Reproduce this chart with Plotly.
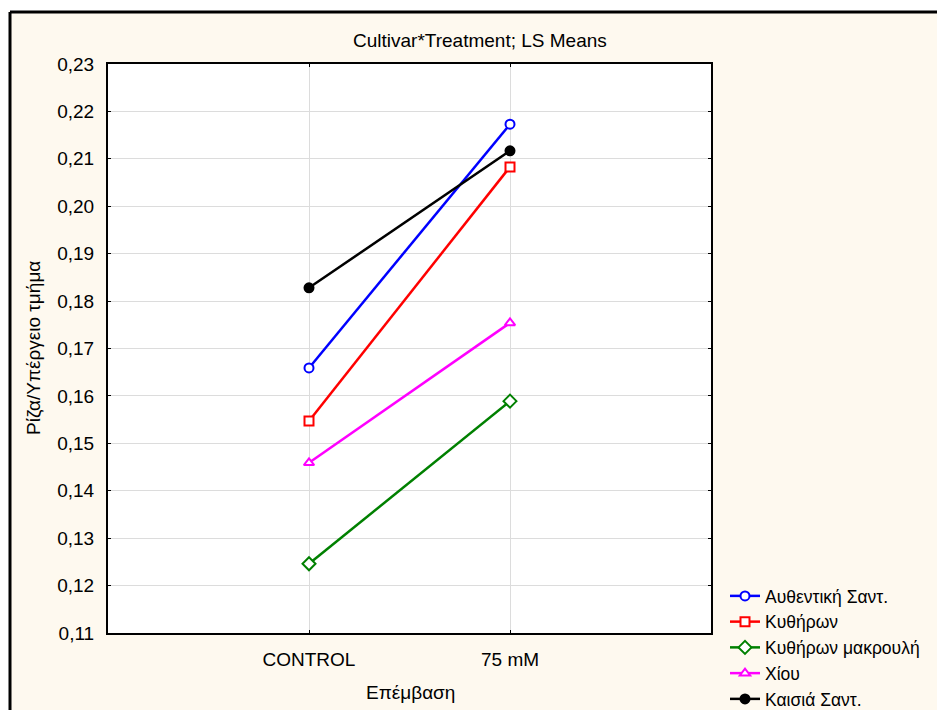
import plotly.graph_objects as go

treatments = ["CONTROL", "75 mM"]
series_names = ["Αυθεντική Σαντ.", "Κυθήρων", "Κυθήρων μακρουλή", "Χίου", "Καισιά Σαντ."]
authentiki = [0.1659, 0.2173]
kythiron = [0.1547, 0.2083]
kythiron_makr = [0.1246, 0.1589]
chiou = [0.1459, 0.1754]
kaisia = [0.1828, 0.2117]
y_ticks = [0.11, 0.12, 0.13, 0.14, 0.15, 0.16, 0.17, 0.18, 0.19, 0.20, 0.21, 0.22, 0.23]

values = [authentiki, kythiron, kythiron_makr, chiou, kaisia]
colors = ["#0000FF", "#FF0000", "#008000", "#FF00FF", "#000000"]
symbols = ["circle", "square", "diamond", "triangle-up", "circle"]
fills = ["white", "white", "white", "white", "#000000"]
sizes = [9, 9, 10, 9, 9]

FONT = "Liberation Sans, Arial, sans-serif"
W, H = 937, 710
L, R, T, B = 108, 711, 64, 633

def px(x):
    return (x - L) / (R - L)

def py(y):
    return (B - y) / (B - T)

fig = go.Figure()
for name, vals, c, s, f, sz in zip(series_names, values, colors, symbols, fills, sizes):
    fig.add_trace(go.Scatter(
        x=treatments, y=vals, name=name, mode="lines+markers",
        line=dict(color=c, width=2.5),
        marker=dict(symbol=s, size=sz, color=f, line=dict(color=c, width=2)),
    ))

fig.update_layout(
    width=W, height=H,
    margin=dict(l=L, r=W - R, t=T, b=H - B, autoexpand=False),
    paper_bgcolor="#FEF9EF",
    plot_bgcolor="white",
    separators=",.",
    font=dict(family=FONT, size=19, color="black"),
    showlegend=True,
    legend=dict(
        x=px(725), y=py(578), xanchor="left", yanchor="top",
        bgcolor="rgba(0,0,0,0)", font=dict(size=17.5, family=FONT),
        tracegroupgap=0,
    ),
    xaxis=dict(
        type="category", range=[-1, 2],
        showgrid=True, gridcolor="#DCDCDC", gridwidth=1,
        showline=True, linecolor="black", linewidth=2, mirror="ticks",
        ticks="inside", ticklen=3, tickcolor="black",
        tickfont=dict(size=19, family=FONT), ticklabelstandoff=8,
    ),
    yaxis=dict(
        range=[0.11, 0.23], tickvals=y_ticks, tickformat=".2f",
        showgrid=True, gridcolor="#DCDCDC", gridwidth=1,
        showline=True, linecolor="black", linewidth=2, mirror="ticks",
        ticks="inside", ticklen=3, tickcolor="black",
        tickfont=dict(size=19, family=FONT), ticklabelstandoff=8,
        zeroline=False,
    ),
    annotations=[
        dict(text="Cultivar*Treatment; LS Means", x=px(480), y=py(40), xref="paper", yref="paper",
             showarrow=False, xanchor="center", yanchor="middle", font=dict(size=19, family=FONT)),
        dict(text="Ρίζα/Υπέργειο τμήμα", x=px(33), y=py(348), xref="paper", yref="paper",
             showarrow=False, xanchor="center", yanchor="middle", textangle=-90,
             font=dict(size=19, family=FONT)),
        dict(text="Επέμβαση", x=px(410), y=py(692), xref="paper", yref="paper",
             showarrow=False, xanchor="center", yanchor="middle", font=dict(size=19, family=FONT)),
    ],
    shapes=[
        dict(type="rect", xref="paper", yref="paper", x0=px(-20), x1=px(9), y0=py(760), y1=py(-20),
             fillcolor="white", line=dict(width=0), layer="above"),
        dict(type="rect", xref="paper", yref="paper", x0=px(-20), x1=px(960), y0=py(11), y1=py(-20),
             fillcolor="white", line=dict(width=0), layer="above"),
        dict(type="line", xref="paper", yref="paper", x0=px(10), x1=px(10), y0=py(12), y1=py(760),
             line=dict(color="black", width=3), layer="above"),
        dict(type="line", xref="paper", yref="paper", x0=px(10), x1=px(960), y0=py(12), y1=py(12),
             line=dict(color="black", width=3), layer="above"),
    ],
)

fig.write_html("out.html")
